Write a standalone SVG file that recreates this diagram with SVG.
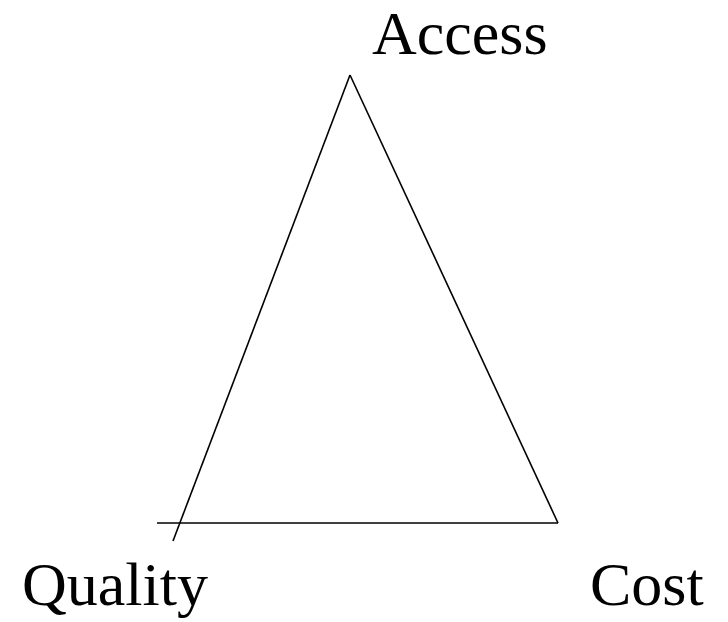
<svg xmlns="http://www.w3.org/2000/svg" width="728" height="622" viewBox="0 0 728 622">
<style>
.lbl{font-family:"Liberation Serif","Times New Roman",serif;font-size:62px;fill:#000}
.ln{stroke:#000;stroke-width:1.6;fill:none;stroke-linecap:butt}
</style>
<rect width="728" height="622" fill="#fff"/>
<g id="connectors">
<line class="ln" x1="350" y1="75" x2="173" y2="541"/>
<line class="ln" x1="350" y1="75" x2="558" y2="523"/>
<line class="ln" x1="157" y1="523" x2="558" y2="523"/>
</g>
<g id="access"><text class="lbl" x="372" y="54">Access</text></g>
<g id="quality"><text class="lbl" x="22" y="605">Quality</text></g>
<g id="cost"><text class="lbl" x="590" y="605">Cost</text></g>
</svg>
